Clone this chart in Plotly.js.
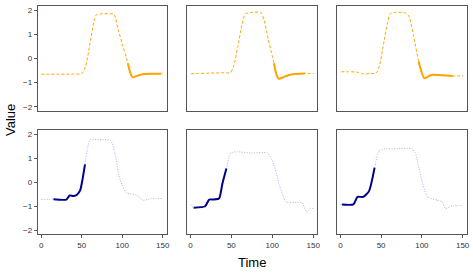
<!DOCTYPE html>
<html><head><meta charset="utf-8">
<script src="https://cdn.plot.ly/plotly-3.0.1.min.js"></script>
<style>html,body{margin:0;padding:0;background:#fff}#chart{width:473px;height:273px}</style>
</head><body><div id="chart"></div>
<script>
// ---- Data ----
// Top row: full series (dashed orange) and highlighted segment (solid orange)
const top1FullX = [0, 10, 20, 30, 40, 50, 55, 60, 65, 68, 75, 85, 90, 95, 100, 105, 107, 110, 113, 118, 125, 135, 150];
const top1FullY = [-0.65, -0.65, -0.65, -0.65, -0.64, -0.63, -0.3, 0.6, 1.5, 1.8, 1.85, 1.85, 1.82, 1.2, 0.6, 0.05, -0.2, -0.6, -0.78, -0.72, -0.65, -0.63, -0.63];
const top1SegX = [107, 110, 113, 118, 125, 135, 148];
const top1SegY = [-0.2, -0.6, -0.78, -0.72, -0.65, -0.63, -0.63];

const top2FullX = [1, 10, 20, 30, 40, 49, 53, 58, 63, 67, 75, 86, 90, 95, 100, 102, 105, 108, 115, 123, 140, 151];
const top2FullY = [-0.63, -0.62, -0.61, -0.6, -0.59, -0.58, -0.3, 0.5, 1.4, 1.84, 1.9, 1.9, 1.6, 0.8, 0.1, -0.2, -0.65, -0.84, -0.75, -0.66, -0.62, -0.62];
const top2SegX = [102, 105, 108, 115, 123, 140];
const top2SegY = [-0.2, -0.65, -0.84, -0.75, -0.66, -0.62];

const top3FullX = [1, 10, 20, 28, 36, 44, 48, 53, 58, 61, 66, 75, 80, 84, 90, 96, 100, 103, 111, 119, 130, 138, 151];
const top3FullY = [-0.55, -0.55, -0.56, -0.63, -0.63, -0.6, -0.3, 0.6, 1.5, 1.84, 1.9, 1.9, 1.88, 1.75, 0.9, -0.12, -0.6, -0.82, -0.68, -0.68, -0.7, -0.72, -0.72];
const top3SegX = [96, 100, 103, 111, 119, 130, 138];
const top3SegY = [-0.12, -0.6, -0.82, -0.68, -0.68, -0.7, -0.72];

// Bottom row: full series (dotted lavender) and highlighted segment (solid navy)
const bot1FullX = [0, 15, 31, 35, 40, 44, 48, 51, 54, 57, 60, 64, 75, 85, 88, 91, 97, 105, 118, 126, 136, 150];
const bot1FullY = [-0.72, -0.71, -0.72, -0.55, -0.57, -0.52, -0.34, 0.14, 0.75, 1.4, 1.77, 1.78, 1.78, 1.76, 1.6, 1.22, 0.14, -0.43, -0.54, -0.75, -0.68, -0.68];
const bot1SegX = [15, 31, 35, 40, 44, 48, 51, 54];
const bot1SegY = [-0.71, -0.72, -0.55, -0.57, -0.52, -0.34, 0.14, 0.75];

const bot2FullX = [0, 4, 18, 23, 28, 35, 39, 44, 49, 57, 74, 94, 101, 109, 117, 136, 142, 146, 150];
const bot2FullY = [-0.93, -1.06, -1.0, -0.72, -0.72, -0.68, -0.07, 0.57, 1.22, 1.27, 1.22, 1.22, 0.82, -0.14, -0.82, -0.85, -1.25, -1.09, -1.09];
const bot2SegX = [4, 18, 23, 28, 35, 39, 44];
const bot2SegY = [-1.06, -1.0, -0.72, -0.72, -0.68, -0.07, 0.57];

const bot3FullX = [0, 2, 16, 21, 28, 35, 42, 47, 53, 65, 88, 92, 98, 107, 119, 125, 129, 138, 150];
const bot3FullY = [-0.93, -0.93, -0.92, -0.61, -0.61, -0.38, 0.61, 1.29, 1.39, 1.39, 1.39, 1.22, 0.34, -0.61, -0.75, -0.82, -1.09, -0.98, -0.98];
const bot3SegX = [2, 16, 21, 28, 35, 42];
const bot3SegY = [-0.93, -0.92, -0.61, -0.61, -0.38, 0.61];

const yTickVals = [-2, -1, 0, 1, 2];
const xTickVals = [0, 50, 100, 150];

// ---- Styling ----
const orange = '#FFA500';
const navy = '#00008B';
const lavender = '#b0b0ec';

function tr(x, y, ax, color, width, dash) {
  return {x: x, y: y, xaxis: 'x' + ax, yaxis: 'y' + ax, type: 'scatter', mode: 'lines',
    line: {color: color, width: width, dash: dash, shape: 'spline', smoothing: 0.6},
    hoverinfo: 'skip', showlegend: false};
}

const dashed = '3px,2px';
const dotted = '1px,1.5px';
const data = [
  tr(top1FullX, top1FullY, '', orange, 1, dashed),
  tr(top1SegX, top1SegY, '', orange, 2, 'solid'),
  tr(top2FullX, top2FullY, '2', orange, 1, dashed),
  tr(top2SegX, top2SegY, '2', orange, 2, 'solid'),
  tr(top3FullX, top3FullY, '3', orange, 1, dashed),
  tr(top3SegX, top3SegY, '3', orange, 2, 'solid'),
  tr(bot1FullX, bot1FullY, '4', lavender, 1, dotted),
  tr(bot1SegX, bot1SegY, '4', navy, 2, 'solid'),
  tr(bot2FullX, bot2FullY, '5', lavender, 1, dotted),
  tr(bot2SegX, bot2SegY, '5', navy, 2, 'solid'),
  tr(bot3FullX, bot3FullY, '6', lavender, 1, dotted),
  tr(bot3SegX, bot3SegY, '6', navy, 2, 'solid')
];

const W = 473, H = 273;
const colPx = [[37.7, 166.7], [186.7, 317.3], [336.7, 466.7]];
const rowPx = [[5.7, 111], [130, 234.3]];
const font = {family: 'Liberation Sans, Arial, sans-serif', color: '#333', size: 8};

function xa(col, row, idx) {
  return {domain: [colPx[col][0] / W, colPx[col][1] / W], range: [-4.5, 155],
    anchor: 'y' + (idx === 1 ? '' : idx),
    showgrid: false, zeroline: false, showline: true, mirror: true, linecolor: '#555', linewidth: 1,
    tickvals: xTickVals, showticklabels: row === 1, ticks: row === 1 ? 'outside' : '', ticklen: 3,
    tickcolor: '#555', tickfont: font};
}
function ya(col, row, idx) {
  return {domain: [1 - rowPx[row][1] / H, 1 - rowPx[row][0] / H], range: [-2.17, 2.18],
    anchor: 'x' + (idx === 1 ? '' : idx),
    showgrid: false, zeroline: false, showline: true, mirror: true, linecolor: '#555', linewidth: 1,
    tickvals: yTickVals, showticklabels: col === 0, ticks: col === 0 ? 'outside' : '', ticklen: 3,
    tickcolor: '#555', tickfont: font};
}

const layout = {
  width: W, height: H, margin: {l: 0, r: 0, t: 0, b: 0},
  paper_bgcolor: '#fff', plot_bgcolor: '#fff', showlegend: false,
  font: font,
  xaxis: xa(0, 0, 1), yaxis: ya(0, 0, 1),
  xaxis2: xa(1, 0, 2), yaxis2: ya(1, 0, 2),
  xaxis3: xa(2, 0, 3), yaxis3: ya(2, 0, 3),
  xaxis4: xa(0, 1, 4), yaxis4: ya(0, 1, 4),
  xaxis5: xa(1, 1, 5), yaxis5: ya(1, 1, 5),
  xaxis6: xa(2, 1, 6), yaxis6: ya(2, 1, 6),
  annotations: [
    {text: 'Time', xref: 'paper', yref: 'paper', x: 252 / W, y: 1 - 262 / H, xanchor: 'center', yanchor: 'middle',
      showarrow: false, font: {family: 'Liberation Sans, Arial, sans-serif', size: 13, color: '#000'}},
    {text: 'Value', xref: 'paper', yref: 'paper', x: 10 / W, y: 1 - 120 / H, xanchor: 'center', yanchor: 'middle',
      showarrow: false, textangle: -90, font: {family: 'Liberation Sans, Arial, sans-serif', size: 13, color: '#000'}}
  ]
};

Plotly.newPlot('chart', data, layout, {displayModeBar: false, staticPlot: true});
</script></body></html>
